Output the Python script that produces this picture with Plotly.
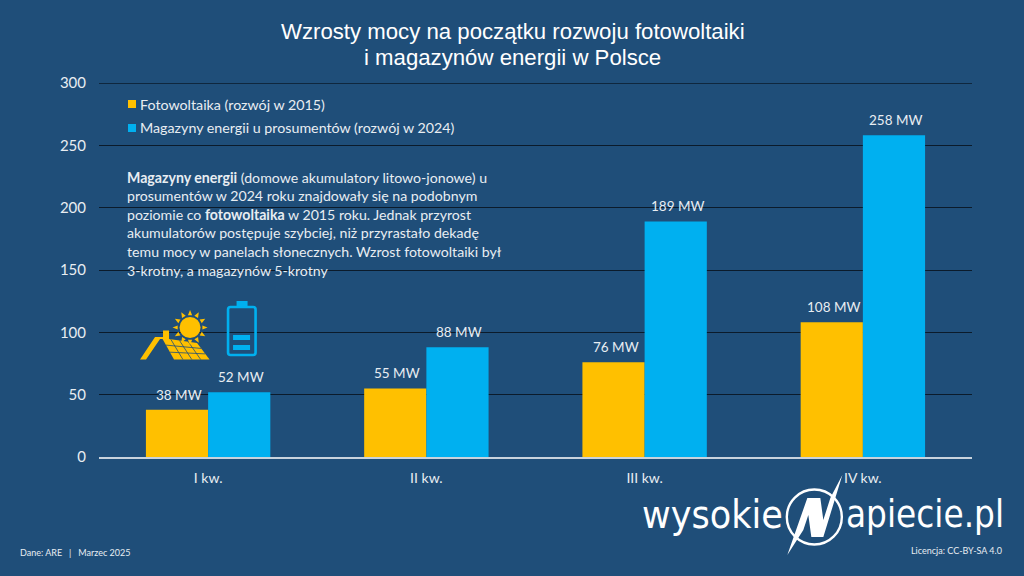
import math
import plotly.graph_objects as go

W, H = 1024, 576
L, R, T, B = 99, 971.6, 83, 457

quarters = ["I kw.", "II kw.", "III kw.", "IV kw."]
pv_2015 = [38, 55, 76, 108]
storage_2024 = [52, 88, 189, 258]
y_ticks = [0, 50, 100, 150, 200, 250, 300]

BG = "#1F4E79"
YELLOW = "#FFC000"
BLUE = "#00B0F0"
TEXT = "#E8EDF2"
GRID = "#0B1B2B"
BODY = "Lato"

body_lines = [
    "<b>Magazyny energii</b> (domowe akumulatory litowo-jonowe) u",
    "prosumentów w 2024 roku znajdowały się na podobnym",
    "poziomie co <b>fotowoltaika</b> w 2015 roku. Jednak przyrost",
    "akumulatorów postępuje szybciej, niż przyrastało dekadę",
    "temu mocy w panelach słonecznych. Wzrost fotowoltaiki był",
    "3-krotny, a magazynów 5-krotny",
]


def px(x):
    return (x - L) / (R - L)


def py(y):
    return (B - y) / (B - T)


def poly(points, fill):
    path = "M " + " L ".join(f"{px(x):.5f},{py(y):.5f}" for x, y in points) + " Z"
    return dict(type="path", xref="paper", yref="paper", path=path, fillcolor=fill,
                line=dict(color=fill, width=0), layer="above")


def box(x0, y0, x1, y1, fill):
    return dict(type="rect", xref="paper", yref="paper", x0=px(x0), x1=px(x1), y0=py(y0), y1=py(y1),
                fillcolor=fill, line=dict(width=0), layer="above")


def rounded_outline(x0, y0, x1, y1, r, color, width):
    p = lambda x, y: f"{px(x):.5f},{py(y):.5f}"
    path = (f"M {p(x0 + r, y0)} L {p(x1 - r, y0)} Q {p(x1, y0)} {p(x1, y0 + r)} "
            f"L {p(x1, y1 - r)} Q {p(x1, y1)} {p(x1 - r, y1)} "
            f"L {p(x0 + r, y1)} Q {p(x0, y1)} {p(x0, y1 - r)} "
            f"L {p(x0, y0 + r)} Q {p(x0, y0)} {p(x0 + r, y0)} Z")
    return dict(type="path", xref="paper", yref="paper", path=path,
                line=dict(color=color, width=width), layer="above")


def ring(cx, cy, r, fill="rgba(0,0,0,0)", line=None, width=0):
    return dict(type="circle", xref="paper", yref="paper", x0=px(cx - r), x1=px(cx + r),
                y0=py(cy + r), y1=py(cy - r), fillcolor=fill,
                line=dict(color=line or fill, width=width), layer="above")


def seg(x0, y0, x1, y1, color, width=1):
    return dict(type="line", xref="paper", yref="paper", x0=px(x0), x1=px(x1), y0=py(y0), y1=py(y1),
                line=dict(color=color, width=width), layer="above")


def label(x, y, text, size, color=TEXT, family=BODY, anchor="left"):
    return dict(xref="paper", yref="paper", x=px(x), y=py(y), text=text, showarrow=False,
                xanchor=anchor, yanchor="middle", align=anchor, borderpad=0, borderwidth=0,
                font=dict(size=size, color=color, family=family))


fig = go.Figure()
annotations = []
for name, values, colour, shift in [("Fotowoltaika (rozwój w 2015)", pv_2015, YELLOW, -31),
                                    ("Magazyny energii u prosumentów (rozwój w 2024)", storage_2024, BLUE, 31)]:
    fig.add_bar(x=quarters, y=values, name=name, marker=dict(color=colour, line=dict(width=0)))
    for q, v in zip(quarters, values):
        annotations.append(dict(x=q, y=v, xref="x", yref="y", text=f"{v} MW", showarrow=False,
                                xanchor="center", yanchor="bottom", xshift=shift + 2, yshift=6, borderpad=0,
                                font=dict(size=13.5, color=TEXT, family=BODY)))

shapes = [dict(type="line", xref="paper", yref="y", x0=0, x1=1, y0=300, y1=300,
               line=dict(color=GRID, width=1.3), layer="below")]
# rooftop solar panel icon
shapes.append(poly([(140, 359.5), (155, 337), (163, 337), (163, 330.5), (169, 330.5), (169, 339), (160, 339), (146, 359.5)], YELLOW))
shapes.append(poly([(162, 338), (197, 343), (209.5, 359.5), (174, 359.5)], YELLOW))
for t in (0.33, 0.66):
    shapes.append(seg(162 + 12 * t, 338 + 21.5 * t, 197 + 12.5 * t, 343 + 16.5 * t, BG, 0.8))
for t in (0.25, 0.5, 0.75):
    shapes.append(seg(162 + 35 * t, 338 + 5 * t, 174 + 35.5 * t, 359.5, BG, 0.8))
# sun above the panels
SUN_X, SUN_Y = 190, 327.5
shapes.append(ring(SUN_X, SUN_Y, 10.5, YELLOW))
for i in range(12):
    a = math.radians(i * 30)
    b = 0.17
    shapes.append(poly([(SUN_X + 17.5 * math.cos(a), SUN_Y + 17.5 * math.sin(a)),
                        (SUN_X + 12.5 * math.cos(a - b), SUN_Y + 12.5 * math.sin(a - b)),
                        (SUN_X + 12.5 * math.cos(a + b), SUN_Y + 12.5 * math.sin(a + b))], YELLOW))
# battery icon
shapes.append(box(236.5, 301, 247.5, 307, BLUE))
shapes.append(rounded_outline(228, 307, 255.5, 355, 2.5, BLUE, 2.6))
shapes.append(box(233, 335, 250, 340, BLUE))
shapes.append(box(233, 345, 250, 350, BLUE))
# legend swatches
shapes.append(box(128, 100, 136, 108, YELLOW))
shapes.append(box(128, 124, 136, 132, BLUE))
# logo emblem
shapes.append(ring(814, 517, 27.5, "rgba(0,0,0,0)", "#FFFFFF", 2.4))
shapes.append(poly([(807, 498), (820, 498), (823, 520), (830, 498), (842, 475), (823, 537), (811, 537),
                    (808, 515), (803, 530), (787, 555)], "#FFFFFF"))

annotations += [
    label(512.5, 31, "Wzrosty mocy na początku rozwoju fotowoltaiki", 22.2, "#FFFFFF", "Liberation Sans", "center"),
    label(512.5, 58, "i magazynów energii w Polsce", 22.2, "#FFFFFF", "Liberation Sans", "center"),
    label(140, 104, "Fotowoltaika (rozwój w 2015)", 14.25),
    label(140, 127.5, "Magazyny energii u prosumentów (rozwój w 2024)", 14.25),
    label(20, 552, "Dane: ARE   |   Marzec 2025", 9),
    label(1002, 550, "Licencja: CC-BY-SA 4.0", 9, anchor="right"),
    label(783, 514, "wysokie", 39, "#FFFFFF", "DejaVu Sans Condensed", "right"),
    label(846, 514, "apiecie.pl", 36.5, "#FFFFFF", "DejaVu Sans Condensed", "left"),
]
for i, line in enumerate(body_lines):
    annotations.append(label(127, 177 + i * 18.6, line, 14.15))

fig.update_layout(
    width=W, height=H, margin=dict(l=L, r=W - R, t=T, b=H - B, pad=0),
    paper_bgcolor=BG, plot_bgcolor=BG, showlegend=False,
    barmode="group", bargap=0.43, bargroupgap=0,
    shapes=shapes, annotations=annotations,
    xaxis=dict(showgrid=False, ticks="", showline=True, linecolor="#C9D3DD", linewidth=1.5,
               tickfont=dict(size=14, color=TEXT, family=BODY), ticklabelstandoff=7, zeroline=False),
    yaxis=dict(range=[0, 300], tickvals=y_ticks, showgrid=True, gridcolor=GRID, gridwidth=1.3,
               zeroline=False, ticks="", tickfont=dict(size=15, color=TEXT, family=BODY),
               ticklabelstandoff=12),
)

fig.write_html("out.html")
